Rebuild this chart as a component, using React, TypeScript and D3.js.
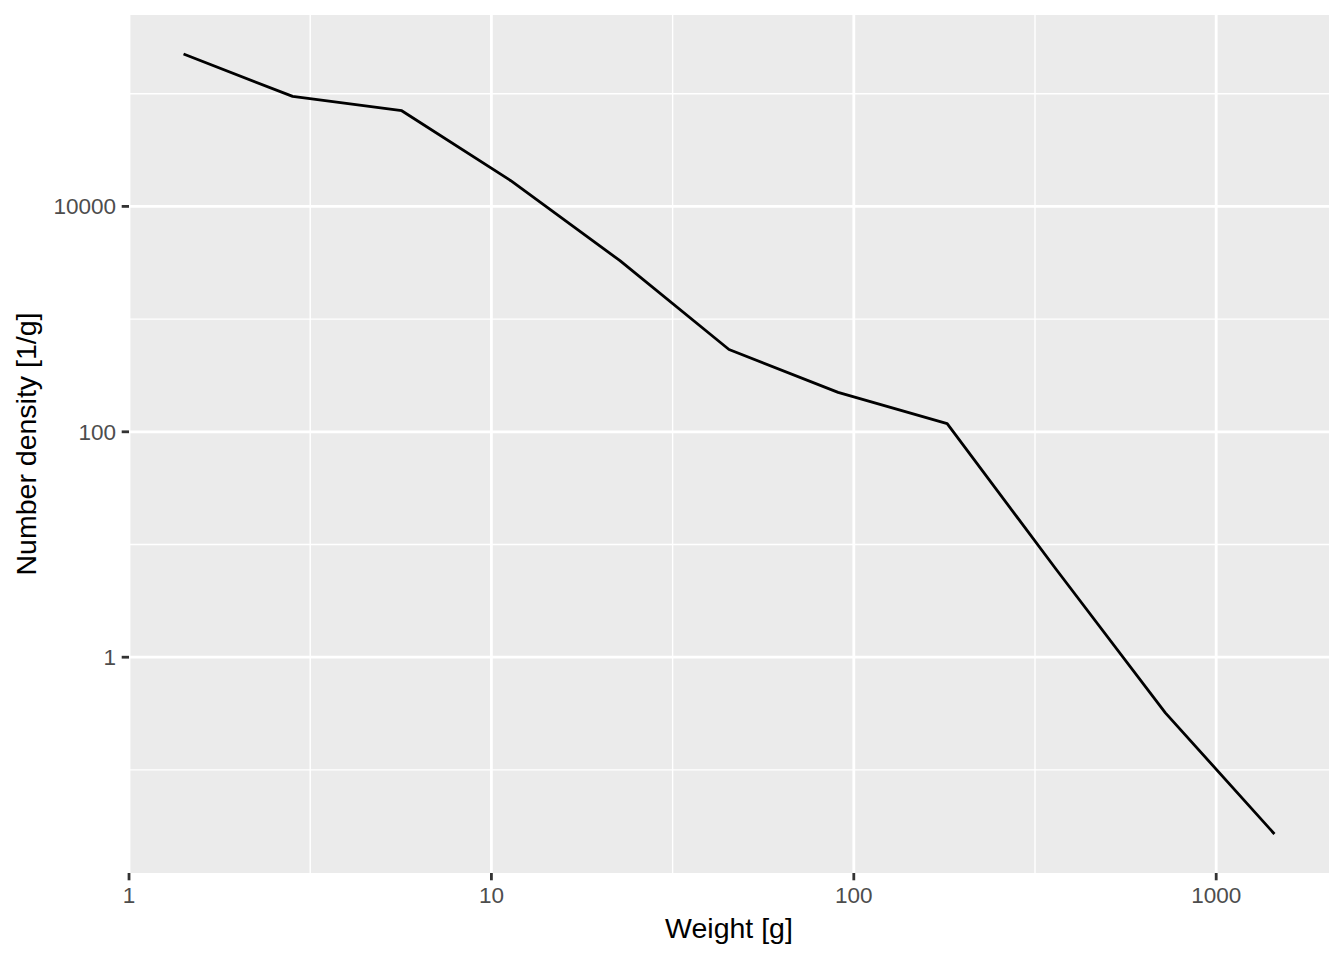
import React, { useEffect } from 'react';
import * as d3 from 'd3';

// weight classes [g] and number density [1/g]
const weights = [1.414, 2.828, 5.657, 11.31, 22.63, 45.25, 90.51, 181.0, 362.0, 724.1, 1448];
const densities = [225000, 94600, 70600, 16900, 3300, 537, 224, 118, 6.0, 0.321, 0.027];

const xTicks = [1, 10, 100, 1000];
const xMinor = [3.1623, 31.623, 316.23];
const yTicks = [1, 100, 10000];
const yMinor = [0.1, 10, 1000, 100000];

const W = 1344;
const H = 960;
const panel = { left: 129, right: 1329, top: 15, bottom: 873 };
const font = '"Liberation Sans", Arial, Helvetica, sans-serif';

// log domain with ggplot style 5% expansion
function expandLog(vals: number[]): [number, number] {
  const lo = Math.log10(d3.min(vals)!);
  const hi = Math.log10(d3.max(vals)!);
  const pad = (hi - lo) * 0.05;
  return [Math.pow(10, lo - pad), Math.pow(10, hi + pad)];
}

export default function App() {
  useEffect(() => {
    document.body.style.margin = '0';
  }, []);

  const x = d3.scaleLog().domain(expandLog(weights)).range([panel.left, panel.right]);
  const y = d3.scaleLog().domain(expandLog(densities)).range([panel.bottom, panel.top]);

  const line = d3.line<number>()
    .x((_d, i) => x(weights[i]))
    .y(d => y(d));

  const fmt = (v: number) => String(v);

  return (
    <svg width={W} height={H} style={{ display: 'block', background: '#fff' }}>
      <rect x={panel.left} y={panel.top} width={panel.right - panel.left}
        height={panel.bottom - panel.top} fill="#EBEBEB" />

      {/* minor grid */}
      {xMinor.map(v => (
        <line key={'xm' + v} x1={x(v)} x2={x(v)} y1={panel.top} y2={panel.bottom}
          stroke="#fff" strokeWidth={1.4} />
      ))}
      {yMinor.map(v => (
        <line key={'ym' + v} x1={panel.left} x2={panel.right} y1={y(v)} y2={y(v)}
          stroke="#fff" strokeWidth={1.4} />
      ))}

      {/* major grid */}
      {xTicks.map(v => (
        <line key={'xg' + v} x1={x(v)} x2={x(v)} y1={panel.top} y2={panel.bottom}
          stroke="#fff" strokeWidth={2.8} />
      ))}
      {yTicks.map(v => (
        <line key={'yg' + v} x1={panel.left} x2={panel.right} y1={y(v)} y2={y(v)}
          stroke="#fff" strokeWidth={2.8} />
      ))}

      <path d={line(densities) ?? ''} fill="none" stroke="#000" strokeWidth={2.8}
        strokeLinejoin="round" />

      {/* x axis */}
      {xTicks.map(v => (
        <g key={'xt' + v}>
          <line x1={x(v)} x2={x(v)} y1={panel.bottom} y2={panel.bottom + 7.3}
            stroke="#333" strokeWidth={2.8} />
          <text x={x(v)} y={903} textAnchor="middle" fontFamily={font}
            fontSize={22.5} fill="#4D4D4D">{fmt(v)}</text>
        </g>
      ))}

      {/* y axis */}
      {yTicks.map(v => (
        <g key={'yt' + v}>
          <line x1={panel.left - 7.3} x2={panel.left} y1={y(v)} y2={y(v)}
            stroke="#333" strokeWidth={2.8} />
          <text x={panel.left - 13} y={y(v)} dy="0.36em" textAnchor="end"
            fontFamily={font} fontSize={22.5} fill="#4D4D4D">{fmt(v)}</text>
        </g>
      ))}

      <text x={(panel.left + panel.right) / 2} y={938} textAnchor="middle"
        fontFamily={font} fontSize={28.5} fill="#000">Weight [g]</text>
      <text transform={`translate(36,${(panel.top + panel.bottom) / 2}) rotate(-90)`}
        textAnchor="middle" fontFamily={font} fontSize={28.5} fill="#000">
        Number density [1/g]
      </text>
    </svg>
  );
}
